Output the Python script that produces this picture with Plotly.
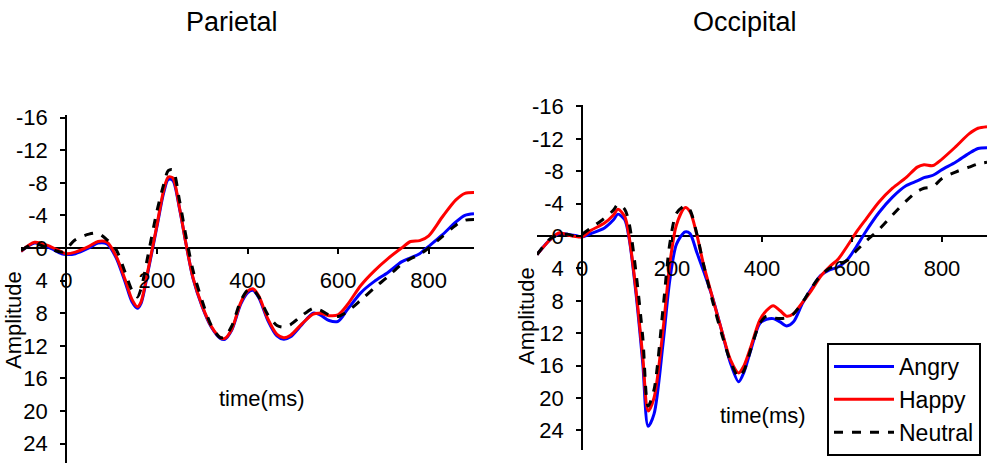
import plotly.graph_objects as go

# ---------------------------------------------------------------
# Parietal (left panel)
t_par = [-100, -70, -40, -10, 0, 20, 50, 70, 90, 110, 130, 145, 157, 165, 180, 200,
         215, 225, 235, 250, 265, 280, 300, 320, 340, 350, 365, 385, 400, 412, 425,
         445, 465, 480, 495, 520, 545, 560, 580, 600, 620, 650, 680, 710, 740, 760,
         780, 800, 830, 860, 880, 900]
par_angry = [0.4, -0.6, -0.1, 0.7, 0.8, 0.7, 0.0, -0.6, -0.5, 1.2, 4.2, 6.6, 7.4, 6.8, 3.0, -2.6,
             -6.8, -8.4, -8.3, -4.8, -0.3, 3.8, 7.2, 9.7, 11.1, 11.2, 10.1, 6.9, 5.5, 5.2, 6.1,
             8.9, 10.8, 11.2, 10.9, 9.4, 8.0, 8.2, 8.9, 9.0, 7.6, 5.5, 4.1, 3.0, 1.7, 1.2,
             0.7, -0.2, -1.6, -3.2, -4.0, -4.2]
par_happy = [0.4, -0.7, -0.3, 0.5, 0.7, 0.5, -0.2, -0.8, -0.7, 1.0, 3.9, 6.3, 7.2, 6.6, 2.8, -2.8,
             -7.1, -8.7, -8.6, -4.9, -0.3, 3.7, 7.1, 9.6, 11.0, 11.1, 10.0, 6.7, 5.3, 5.0, 5.9,
             8.7, 10.6, 11.0, 10.7, 9.3, 8.1, 8.0, 8.3, 8.2, 7.0, 4.6, 2.8, 1.3, 0.0, -0.8,
             -0.9, -1.5, -3.8, -5.9, -6.7, -6.8]
par_neutral = [0.3, -0.5, 0.0, 0.5, 0.1, -1.0, -1.7, -1.8, -1.0, 0.2, 3.0, 5.2, 6.0, 5.0, 1.0, -4.5,
               -7.8, -9.5, -9.6, -5.8, -1.2, 2.8, 6.5, 9.5, 11.0, 10.9, 9.6, 6.5, 5.2, 5.1, 6.0,
               8.2, 9.5, 9.7, 9.4, 8.3, 7.4, 7.6, 8.2, 8.4, 7.8, 6.4, 4.9, 3.5, 2.0, 1.3,
               0.8, 0.0, -1.4, -2.8, -3.4, -3.5]

# Occipital (right panel)
t_occ = [-100, -70, -50, -30, -10, 0, 20, 50, 70, 80, 95, 105, 120, 135, 147, 160, 180,
         195, 210, 229, 240, 255, 270, 290, 310, 330, 348, 360, 375, 395, 410, 425, 440,
         455, 470, 490, 510, 530, 550, 570, 590, 610, 630, 660, 690, 720, 745, 760, 780,
         800, 830, 860, 880, 900]
occ_angry = [2.3, 0.4, -0.3, -0.2, 0.0, 0.1, -0.3, -1.0, -2.0, -2.7, -2.0, 0.4, 7.1, 15.7, 23.5, 22.0, 13.3,
             5.5, 1.0, -0.5, -0.3, 2.0, 4.3, 7.6, 11.6, 15.7, 18.0, 16.8, 14.1, 10.8, 10.3, 10.2, 10.6,
             11.1, 10.6, 8.3, 6.5, 4.9, 4.2, 3.8, 2.9, 1.3, -0.5, -2.9, -4.8, -6.2, -6.8, -7.2, -7.5,
             -8.2, -9.1, -10.2, -10.8, -10.9]
occ_happy = [2.3, 0.4, -0.4, -0.1, 0.1, 0.1, -0.7, -1.6, -2.6, -3.3, -2.4, 0.2, 6.7, 14.9, 21.6, 20.0, 11.6,
             3.5, -1.4, -3.5, -3.0, -0.2, 3.5, 7.6, 11.6, 15.3, 16.9, 16.0, 13.7, 10.4, 9.2, 8.6, 9.2,
             9.9, 9.6, 8.2, 6.7, 5.0, 3.8, 2.8, 1.2, -0.5, -2.0, -4.2, -5.9, -7.2, -8.5, -8.8, -8.7,
             -9.5, -11.0, -12.6, -13.3, -13.5]
occ_neutral = [2.3, 0.3, -0.1, -0.2, 0.1, -0.2, -1.0, -2.2, -3.2, -3.9, -3.3, -1.5, 4.5, 12.5, 21.0, 19.0, 9.0,
               1.0, -2.8, -3.7, -3.2, -0.3, 3.5, 8.0, 12.0, 15.5, 17.4, 16.6, 14.0, 10.8, 9.9, 10.1, 10.2,
               10.1, 9.6, 8.2, 6.4, 4.9, 4.0, 3.5, 3.0, 1.8, 0.7, -0.8, -2.6, -4.3, -5.5, -5.9, -6.1,
               -7.1, -7.9, -8.5, -8.9, -9.1]

y_ticks = [-16, -12, -8, -4, 0, 4, 8, 12, 16, 20, 24]
y_ticktext = ["-16", "-12", "-8", "-4", "0", "4", "8", "12", "16", "20", "24"]
x_ticks = [0, 200, 400, 600, 800]
names = ["Angry", "Happy", "Neutral"]
colors = ["#0000ff", "#ff0000", "#000000"]
dashes = ["solid", "solid", "dash"]

W, H = 1000, 465
FONT = "Liberation Sans, Arial, sans-serif"

def px(x):
    return x / W

def py(y):
    return 1 - y / H

fig = go.Figure()

panels = [
    (t_par, [par_angry, par_happy, par_neutral], "x", "y", False),
    (t_occ, [occ_angry, occ_happy, occ_neutral], "x2", "y2", True),
]
for t, series, xa, ya, show in panels:
    for name, vals, col, dsh in zip(names, series, colors, dashes):
        fig.add_trace(go.Scatter(
            x=t, y=vals, name=name, xaxis=xa, yaxis=ya, mode="lines",
            line=dict(color=col, width=3, dash=dsh, shape="spline", smoothing=0.8),
            showlegend=show,
        ))

# axis geometry (pixel positions)
axis_common = dict(showgrid=False, ticks="outside", ticklen=5, tickwidth=1.5,
                   tickcolor="black", automargin=False,
                   tickfont=dict(size=22, color="black", family=FONT))
xax = dict(range=[-100, 900], anchor="free", tickvals=x_ticks, showline=False,
           zeroline=False, ticklabelstandoff=8, **axis_common)
yax = dict(anchor="free", tickvals=y_ticks, ticktext=y_ticktext, showline=True,
           linecolor="black", linewidth=1.5, zeroline=True, zerolinecolor="black",
           zerolinewidth=1.5, ticklabelstandoff=8, **axis_common)

# left panel: x from 21px to 474px, zero line at 248px, y-axis line at 66px
fig.update_layout(
    xaxis=dict(domain=[px(21), px(474)], position=py(248), **xax),
    yaxis=dict(domain=[py(463), py(115)], range=[(463 - 248) / 8.15, (115 - 248) / 8.15],
               position=px(66), **yax),
    # right panel: x from 537px to 987px, zero line at 236px, y-axis line at 582px
    xaxis2=dict(domain=[px(537), px(987)], position=py(236), **xax),
    yaxis2=dict(domain=[py(450), py(105)], range=[(450 - 236) / 8.1, (105 - 236) / 8.1],
                position=px(582), **yax),
)

texts = [
    ("Parietal", 232, 22, 27, 0),
    ("Occipital", 745, 22, 27, 0),
    ("Amplitude", 13, 320, 22, -90),
    ("Amplitude", 526, 316, 22, -90),
    ("time(ms)", 262, 398, 22, 0),
    ("time(ms)", 763, 415, 22, 0),
]
for txt, x, y, size, ang in texts:
    fig.add_annotation(text=txt, x=px(x), y=py(y), xref="paper", yref="paper",
                       showarrow=False, textangle=ang, xanchor="center", yanchor="middle",
                       font=dict(size=size, color="black", family=FONT))

fig.update_layout(
    width=W, height=H,
    margin=dict(l=0, r=0, t=0, b=0, autoexpand=False),
    paper_bgcolor="white", plot_bgcolor="white",
    font=dict(family=FONT, color="black"),
    legend=dict(x=px(827), y=py(343), xanchor="left", yanchor="top",
                bgcolor="white", bordercolor="black", borderwidth=2,
                font=dict(size=23, color="black", family=FONT),
                itemwidth=60, tracegroupgap=0),
)

# the page body has a default 8px margin; drop it so the figure sits at 0,0
fig.write_html("out.html", config={"displayModeBar": False},
               post_script="document.body.style.margin='0px';")
